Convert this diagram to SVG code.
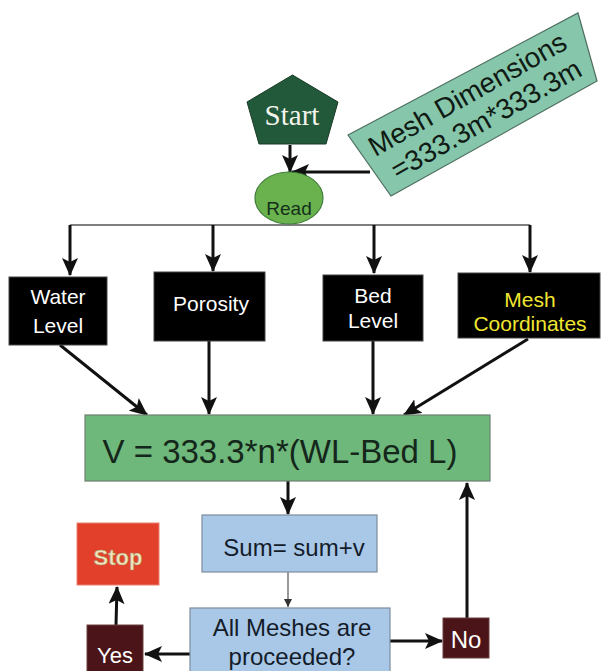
<svg xmlns="http://www.w3.org/2000/svg" width="601" height="671" viewBox="0 0 601 671">
<defs>
<marker id="ah" markerWidth="18" markerHeight="16" refX="17" refY="8" orient="auto" markerUnits="userSpaceOnUse">
<path d="M0,0 L18,8 L0,16 L4,8 Z" fill="#111"/>
</marker>
<marker id="ahs" markerWidth="8" markerHeight="8" refX="8" refY="4" orient="auto" markerUnits="userSpaceOnUse">
<path d="M0,0 L8,4 L0,8 Z" fill="#333"/>
</marker>
<style>
.conn{stroke:#111;stroke-width:3;fill:none;marker-end:url(#ah)}
.thin{stroke:#555;stroke-width:1.5;fill:none}
.blk{fill:#000;stroke:#444;stroke-width:1}
.wt{font-family:"Liberation Sans",Arial,sans-serif;font-size:21px;fill:#fff;text-anchor:middle}
.yt{font-family:"Liberation Sans",Arial,sans-serif;font-size:21px;fill:#f0e630;text-anchor:middle}
.blue{fill:#a9c8e8;stroke:#7c8c9c;stroke-width:1.2}
.dk{font-family:"Liberation Sans",Arial,sans-serif;font-size:24px;fill:#141c2a;text-anchor:middle}
.mar{fill:#4a1418;stroke:#6a4040;stroke-width:1}
</style>
</defs>
<rect width="601" height="671" fill="#fff"/>

<g id="connectors">
<line class="conn" x1="290" y1="145" x2="290" y2="172"/>
<line class="conn" x1="370" y1="172" x2="292" y2="172"/>
<polyline class="thin" points="70,225 530,225"/>
<line class="conn" x1="70" y1="225" x2="70" y2="275"/>
<line class="conn" x1="213" y1="225" x2="213" y2="271"/>
<line class="conn" x1="374" y1="225" x2="374" y2="273"/>
<line class="conn" x1="530" y1="225" x2="530" y2="272"/>
<line class="conn" x1="60" y1="345" x2="147" y2="415"/>
<line class="conn" x1="209" y1="341" x2="209" y2="414"/>
<line class="conn" x1="373" y1="341" x2="373" y2="414"/>
<line class="conn" x1="528" y1="339" x2="404" y2="415"/>
<line class="conn" x1="288" y1="481" x2="288" y2="514"/>
<line x1="288" y1="572" x2="288" y2="607" stroke="#555" stroke-width="1.2" marker-end="url(#ahs)"/>
<line class="conn" x1="190" y1="654" x2="145" y2="654"/>
<line class="conn" x1="116" y1="625" x2="117" y2="587"/>
<line class="conn" x1="390" y1="641" x2="442" y2="641"/>
<line class="conn" x1="467" y1="618" x2="467" y2="483"/>
</g>

<g id="start">
<polygon points="292.5,75 338,102 326,144 259,144 247,102" fill="#22593a" stroke="#1a3a26" stroke-width="1"/>
<text x="292" y="125" font-family="Liberation Serif,'Times New Roman',serif" font-size="29" fill="#f4f4ec" text-anchor="middle">Start</text>
</g>

<g id="mesh-dimensions">
<polygon points="348,135 578,13 597,81 391,196" fill="#86c6aa" stroke="#4e6e60" stroke-width="1.2"/>
<g transform="translate(474,106) rotate(-29.5)" font-family="Liberation Sans,Arial,sans-serif" font-size="28" fill="#101a14" text-anchor="middle">
<text x="0" y="-4">Mesh Dimensions</text>
<text x="4" y="27">=333.3m*333.3m</text>
</g>
</g>

<g id="read">
<ellipse cx="289" cy="198" rx="34" ry="26" fill="#6ab24e" stroke="#3f7d3a" stroke-width="1.2"/>
<text x="289" y="215" font-family="Liberation Sans,Arial,sans-serif" font-size="19" fill="#15301a" text-anchor="middle">Read</text>
</g>

<g id="water-level">
<rect class="blk" x="9" y="277" width="98" height="68"/>
<text class="wt" x="58" y="304">Water</text>
<text class="wt" x="58" y="333">Level</text>
</g>

<g id="porosity">
<rect class="blk" x="154" y="272" width="111" height="69"/>
<text class="wt" x="211" y="311">Porosity</text>
</g>

<g id="bed-level">
<rect class="blk" x="323" y="275" width="100" height="66"/>
<text class="wt" x="373" y="303">Bed</text>
<text class="wt" x="373" y="328">Level</text>
</g>

<g id="mesh-coordinates">
<rect class="blk" x="458" y="273" width="142" height="65"/>
<text class="yt" x="530" y="307">Mesh</text>
<text class="yt" x="530" y="331">Coordinates</text>
</g>

<g id="volume">
<rect x="85" y="415" width="405" height="66" fill="#6db87a" stroke="#6f7f72" stroke-width="1.2"/>
<text x="280" y="463" font-family="Liberation Sans,Arial,sans-serif" font-size="33" fill="#15261a" text-anchor="middle">V = 333.3*n*(WL-Bed L)</text>
</g>

<g id="sum">
<rect class="blue" x="202" y="515" width="175" height="57"/>
<text class="dk" x="294" y="556">Sum= sum+v</text>
</g>

<g id="decision">
<rect class="blue" x="190" y="608" width="200" height="66"/>
<text class="dk" x="292" y="636">All Meshes are</text>
<text class="dk" x="292" y="665">proceeded?</text>
</g>

<g id="stop">
<rect x="77" y="523" width="82" height="62" fill="#e2402a" stroke="#e88070" stroke-width="1"/>
<text x="118" y="565" font-family="Liberation Sans,Arial,sans-serif" font-size="22" font-weight="bold" fill="#f2e4bc" stroke="#9a8a60" stroke-width="0.5" text-anchor="middle">Stop</text>
</g>

<g id="yes">
<rect class="mar" x="87" y="625" width="56" height="50"/>
<text x="115" y="663" font-family="Liberation Sans,Arial,sans-serif" font-size="22" fill="#fff" text-anchor="middle">Yes</text>
</g>

<g id="no">
<rect class="mar" x="443" y="618" width="46" height="40"/>
<text x="466" y="648" font-family="Liberation Sans,Arial,sans-serif" font-size="24" fill="#fff" text-anchor="middle">No</text>
</g>
</svg>
